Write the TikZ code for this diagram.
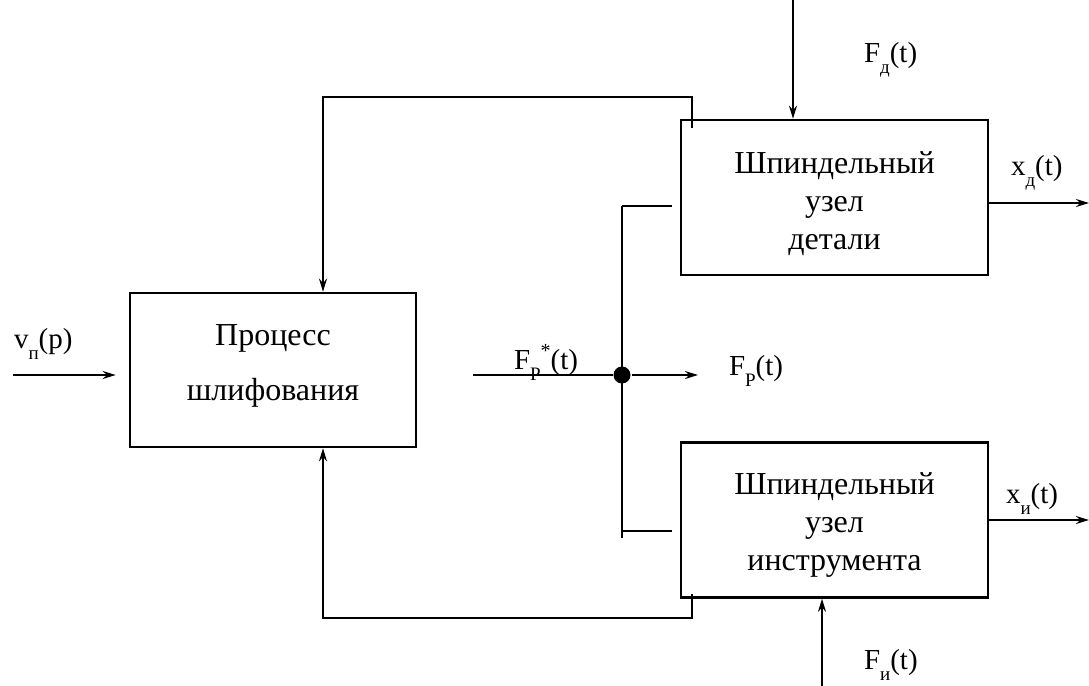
\documentclass[tikz,border=0pt]{standalone}
\usepackage{fontspec}
\setmainfont{Liberation Serif}
\usetikzlibrary{arrows.meta,calc}

\newcommand{\lowidx}[1]{\raisebox{-5.5pt}{\fontsize{9.5}{10}\selectfont #1}}
\newcommand{\upidx}[1]{\raisebox{6pt}{\fontsize{10}{10}\selectfont #1}}

\begin{document}
\begin{tikzpicture}[
    x=0.5pt, y=-0.5pt,
    line width=1pt,
    >={Stealth[length=6.5pt,width=4pt]},
    block/.style={rectangle, draw, line width=1.3pt, minimum width=143pt, minimum height=77pt, text centered, align=center, font=\fontsize{16}{19}\selectfont},
    wide/.style={minimum width=153.5pt, minimum height=77.5pt},
    sig/.style={font=\fontsize{14.5}{17}\selectfont, inner sep=0pt, anchor=base west},
    dot/.style={circle, fill, inner sep=0pt, minimum size=8.5pt}
]
\useasboundingbox (0,0) rectangle (1089,686);

% Блоки
\node[block] (process) at (273,370) {\rule{0pt}{12.5pt}Процесс\\[8.5pt]шлифования\rule[-10pt]{0pt}{10pt}};
\node[block, wide] (detail) at (834.5,197.5) {\rule{0pt}{19.5pt}Шпиндельный\\узел\\детали\rule[-6pt]{0pt}{6pt}};
\node[block, wide] (tool) at (834.5,520) {\rule{0pt}{18pt}Шпиндельный\\узел\\инструмента\rule[-6pt]{0pt}{6pt}};
\node[dot] (junc) at (622,375) {};

% Опорные точки
\coordinate (in) at (13,375);
\coordinate (fpstart) at (473,375);
\coordinate (fpend) at (698,375);
\coordinate (jtop) at (622,206);
\coordinate (jbot) at (622,538);
\coordinate (jlow) at (622,531);
\coordinate (fdtop) at (793,0);
\coordinate (fibot) at (822,686);
\coordinate (xdend) at (1089,203);
\coordinate (xiend) at (1089,520);
\coordinate (fbtop) at (0,97);
\coordinate (fbbot) at (0,618);

% Связи
\draw[->, shorten >=6.5pt] (in) -- (in -| process.west);
\draw (fpstart) -- (junc);
\draw[->] (junc) -- (fpend);
\draw (jtop) -- (jbot);
\draw (jtop) -- ([xshift=-4pt]jtop -| detail.west);
\draw (jlow) -- ([xshift=-4pt]jlow -| tool.west);
\draw[->] (fdtop) -- (fdtop |- detail.north);
\draw[->] (fibot) -- (fibot |- tool.south);
\draw[->] (detail.east |- xdend) -- (xdend);
\draw[->] (tool.east |- xiend) -- (xiend);

% Обратные связи
\draw[->] ([xshift=6pt,yshift=-4.5pt]detail.north west) coordinate (fbs1)
    -- (fbs1 |- fbtop) -| ([xshift=25pt]process.north);
\draw[->] ([xshift=6pt,yshift=2.5pt]tool.south west) coordinate (fbs2)
    -- (fbs2 |- fbbot) -| ([xshift=25pt]process.south);

% Подписи
\node[sig] (lv) at (13,348) {v\lowidx{п}(p)};
\node[sig] (lfps) at (513,369) {F\lowidx{Р}\upidx{*}(t)};
\node[sig] (lfp) at (728,375) {F\lowidx{Р}(t)};
\node[sig] (lfd) at (863,62) {F\lowidx{д}(t)};
\node[sig] (lfi) at (863,669) {F\lowidx{и}(t)};
\node[sig] (lxd) at (1010,175) {x\lowidx{д}(t)};
\node[sig] (lxi) at (1005,503) {x\lowidx{и}(t)};

\end{tikzpicture}
\end{document}
